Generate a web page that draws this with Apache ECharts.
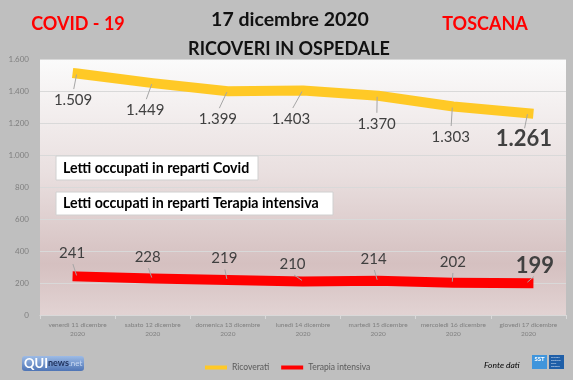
<!DOCTYPE html>
<html><head><meta charset="utf-8">
<script src="https://cdn.jsdelivr.net/npm/echarts@6/dist/echarts.min.js"></script>
<style>html,body{margin:0;padding:0;background:#bfbfbf}#c{width:573px;height:380px}</style>
</head><body><div id="c"></div>
<script>
const categories = ['venerdì 11 dicembre\n2020','sabato 12 dicembre\n2020','domenica 13 dicembre\n2020','lunedì 14 dicembre\n2020','martedì 15 dicembre\n2020','mercoledì 16 dicembre\n2020','giovedì 17 dicembre\n2020'];
const ricoverati = [1509,1449,1399,1403,1370,1303,1261];
const terapiaIntensiva = [241,228,219,210,214,202,199];
const seriesNames = ['Ricoverati','Terapia intensiva'];
const yMin = 0, yMax = 1600, yStep = 200;

// label placement offsets (style, not data)
const yellowOffsets = [[-4.5,26.5],[-7.5,27],[-10,28],[-12,28.5],[-1.5,28],[-2.5,30.5],[-4.5,26]];
const redOffsets = [[-5.5,-23.4],[-5,-21.5],[-3.5,-21.5],[-10.5,-17.4],[-4.5,-21.8],[-0.5,-20.7],[6.5,-17.6]];

const FONT = 'Lato, "Liberation Sans", sans-serif';
const fmt = v => String(v).replace(/\B(?=(\d{3})+(?!\d))/g, '.');

function mkData(arr){
  return arr.map((v,i)=> i===arr.length-1
    ? {value:v, label:{fontSize:22, fontWeight:'bold', color:'#404040'}}
    : v);
}

// leader lines drawn through the axis scales (custom series)
function leaderSeries(values, offsets, below){
  return {type:'custom', z:5, silent:true, data:values.map((v,i)=>[i,v]),
    renderItem:(params, api)=>{
      const p = api.coord([api.value(0), api.value(1)]);
      const o = offsets[params.dataIndex];
      const s = below ? 1 : -1;
      return {type:'line', shape:{x1:p[0]-1, y1:p[1]+s*1, x2:p[0]+o[0]*0.85, y2:p[1]+o[1]-s*11},
        style:{stroke:'#a6a6a6', lineWidth:1}};
    }};
}

const chart = echarts.init(document.getElementById('c'), null, {renderer:'canvas'});
chart.setOption({
  backgroundColor:'#bfbfbf',
  animation:false,
  grid:{left:40,right:7,top:59,bottom:65,show:true,borderWidth:0,
    backgroundColor:new echarts.graphic.LinearGradient(0,0,0,1,[
      {offset:0,color:'#fbfbfb'},{offset:0.45,color:'#e9dfdf'},{offset:0.8,color:'#d5c0c0'},{offset:1,color:'#e2d3d3'}])},
  legend:{data:seriesNames, top:363, left:205, itemWidth:22, itemHeight:4, icon:'rect', itemGap:12, padding:0,
    textStyle:{fontSize:8.5, color:'#595959', fontFamily:FONT}},
  xAxis:{type:'category', data:categories, boundaryGap:true,
    axisLine:{lineStyle:{color:'#d9d9d9'}},
    axisTick:{show:true,length:4,lineStyle:{color:'#d9d9d9'}},
    axisLabel:{interval:0, fontSize:6.5, lineHeight:9, color:'#7f7f7f', margin:5, fontFamily:FONT}},
  yAxis:{type:'value', min:yMin, max:yMax, interval:yStep,
    axisLine:{show:false}, axisTick:{show:false},
    axisLabel:{formatter:fmt, fontSize:8, color:'#7f7f7f', margin:11, fontFamily:FONT},
    splitLine:{lineStyle:{color:'#d9d9d9'}}},
  series:[
    {name:seriesNames[0], type:'line', data:mkData(ricoverati), color:'#ffc926',
      symbol:'circle', symbolSize:1, showSymbol:true,
      lineStyle:{width:10, color:'#ffc926', cap:'square', join:'round'},
      label:{show:true, position:'inside', formatter:p=>fmt(p.value), fontSize:15, color:'#404040', fontFamily:FONT},
      labelLayout:p=>({dx:yellowOffsets[p.dataIndex][0], dy:yellowOffsets[p.dataIndex][1]})},
    {name:seriesNames[1], type:'line', data:mkData(terapiaIntensiva), color:'#ff0000',
      symbol:'circle', symbolSize:1, showSymbol:true,
      lineStyle:{width:10, color:'#ff0000', cap:'square', join:'round'},
      label:{show:true, position:'inside', formatter:p=>fmt(p.value), fontSize:15, color:'#404040', fontFamily:FONT},
      labelLayout:p=>({dx:redOffsets[p.dataIndex][0], dy:redOffsets[p.dataIndex][1]})},
    leaderSeries(ricoverati, yellowOffsets, true),
    leaderSeries(terapiaIntensiva, redOffsets, false)
  ],
  graphic:[
    {type:'text', style:{text:'COVID - 19', x:78, y:24, textAlign:'center', textVerticalAlign:'middle', fill:'#ff0000', fontSize:18, fontWeight:'bold', fontFamily:FONT}},
    {type:'text', style:{text:'TOSCANA', x:485, y:24, textAlign:'center', textVerticalAlign:'middle', fill:'#ff0000', fontSize:18, fontWeight:'bold', fontFamily:FONT}},
    {type:'text', style:{text:'17 dicembre 2020', x:290, y:20, textAlign:'center', textVerticalAlign:'middle', fill:'#111', fontSize:19.5, fontWeight:'bold', fontFamily:FONT}},
    {type:'text', style:{text:'RICOVERI IN OSPEDALE', x:289, y:49, textAlign:'center', textVerticalAlign:'middle', fill:'#111', fontSize:18, fontWeight:'bold', fontFamily:FONT}},
    {type:'rect', shape:{x:56,y:156,width:202,height:24}, style:{fill:'#fff', stroke:'#d0d0d0', lineWidth:1}, z:10},
    {type:'text', style:{text:'Letti occupati in reparti Covid', x:63, y:168, textVerticalAlign:'middle', fill:'#000', fontSize:14.2, fontWeight:'bold', fontFamily:FONT}, z:11},
    {type:'rect', shape:{x:56,y:192,width:277,height:23}, style:{fill:'#fff', stroke:'#d0d0d0', lineWidth:1}, z:10},
    {type:'text', style:{text:'Letti occupati in reparti Terapia intensiva', x:63, y:203.5, textVerticalAlign:'middle', fill:'#000', fontSize:14.2, fontWeight:'bold', fontFamily:FONT}, z:11},
    // QUInews logo
    {type:'rect', shape:{x:22,y:356,width:62,height:15,r:3}, style:{fill:new echarts.graphic.LinearGradient(0,0,0,1,[{offset:0,color:'#9dbbe6'},{offset:1,color:'#4e74b5'}])}},
    {type:'text', style:{text:'{a|QUI}{b|news}{c|.net}', x:24, y:363.5, textVerticalAlign:'middle',
      rich:{a:{fontSize:13,fontWeight:'bold',fill:'#fff',fontFamily:FONT},b:{fontSize:9,fontWeight:'bold',fill:'#1d2f5a',fontFamily:FONT},c:{fontSize:8,fill:'#c9d9f2',fontFamily:FONT}}}},
    // Fonte dati
    {type:'text', style:{text:'Fonte dati', x:484, y:365, textVerticalAlign:'middle', fill:'#000', fontSize:8.5, fontStyle:'italic', fontFamily:FONT}},
    {type:'rect', shape:{x:532,y:355,width:15,height:14}, style:{fill:'#3f95dc'}},
    {type:'text', style:{text:'SST', x:539.5, y:359, textAlign:'center', textVerticalAlign:'middle', fill:'#fff', fontSize:6, fontWeight:'bold', fontFamily:FONT}},
    {type:'rect', shape:{x:549,y:355,width:15,height:14}, style:{fill:'#1f5fa8'}},
    {type:'text', style:{text:'Servizio\nSanitario\ndella\nToscana', x:551, y:362, textVerticalAlign:'middle', fill:'#dfe9f7', fontSize:2.5, lineHeight:3, fontFamily:FONT}}
  ]
});
</script></body></html>
